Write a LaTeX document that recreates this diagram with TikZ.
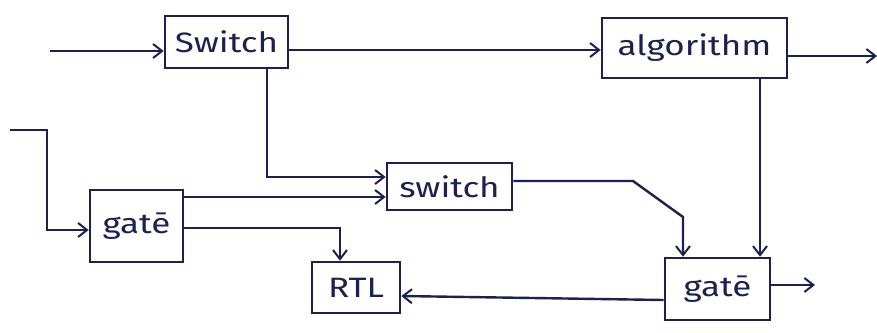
\documentclass[tikz,border=0pt]{standalone}
\usepackage{fontspec}
\setmainfont{Fira Sans}
\newfontfamily\hand[FakeStretch=1.25]{Fira Sans}
\usetikzlibrary{arrows.meta,calc}
\definecolor{ink}{HTML}{1C2150}
\begin{document}
\begin{tikzpicture}[x=1pt,y=-1pt,
  blk/.style={draw=ink,line width=2.6pt,rectangle,inner sep=0pt,text=ink,font=\hand\fontsize{28}{30}\selectfont},
  wire/.style={draw=ink,line width=2.4pt,-{Straight Barb[length=9pt,width=14pt,line width=2pt]}}]
\fill[white] (0,0) rectangle (877,332);
\useasboundingbox (0,0) rectangle (877,332);
\node[blk,minimum width=123pt,minimum height=52pt] (sw1) at (226.5,42) {Switch};
\node[blk,minimum width=185pt,minimum height=60pt] (alg) at (694.5,48) {algorithm};
\node[blk,minimum width=125pt,minimum height=47pt] (sw2) at (449.5,186.5) {switch};
\node[blk,minimum width=93pt,minimum height=72pt] (g1) at (136.5,226) {gatē};
\node[blk,minimum width=88pt,minimum height=51pt] (rtl) at (356,287.5) {RTL};
\node[blk,minimum width=105pt,minimum height=62pt] (g2) at (717.5,289) {gatē};
\coordinate (in1) at (50,51);
\coordinate (in2) at (10,130);
\coordinate (out1) at (877,56);
\coordinate (out2) at (815,285);
% top input
\draw[wire] (in1) -- (in1 -| sw1.west);
% switch -> algorithm
\draw[wire] (sw1.east |- 0,50) -- (alg.west |- 0,50);
% algorithm output
\draw[wire] (alg.east |- out1) -- (out1);
% switch down to switch2
\draw[wire] (267,0 |- sw1.south) -- (267,177) -- (sw2.west |- 0,177);
% left input to gate1
\draw[wire] (in2) -- (47,130) -- (47,230) -- (g1.west |- 0,230);
% gate1 -> switch2
\draw[wire] (g1.east |- 0,197) -- (sw2.west |- 0,197);
% gate1 -> RTL
\draw[wire] (g1.east |- 0,228) -- (340,228) -- (340,0 |- rtl.north);
% switch2 -> gate2
\draw[wire] (sw2.east |- 0,181) -- (633,181) -- (683,217) -- (683,0 |- g2.north);
% algorithm -> gate2
\draw[wire] (760,0 |- alg.south) -- (760,0 |- g2.north);
% gate2 output
\draw[wire] (g2.east |- out2) -- (out2);
% gate2 -> RTL
\draw[wire] (g2.west |- 0,300) -- (rtl.east |- 0,296);
\end{tikzpicture}
\end{document}
